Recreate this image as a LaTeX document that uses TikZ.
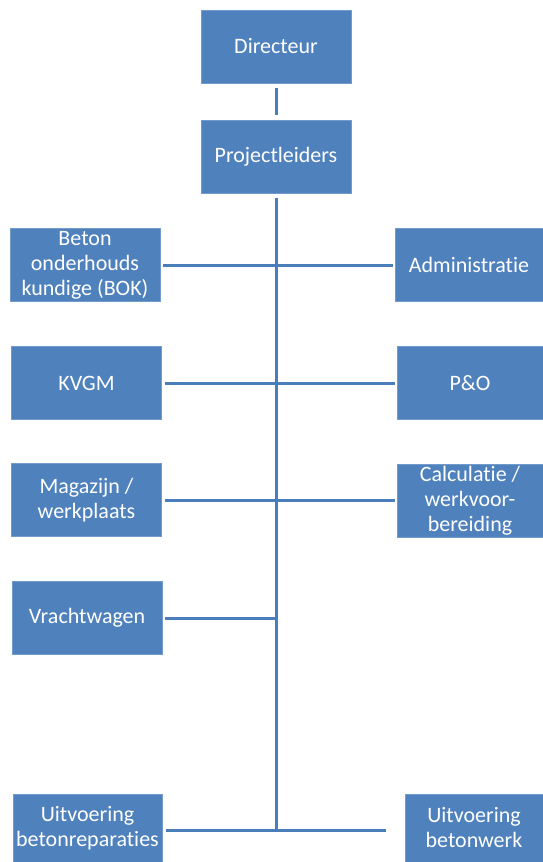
\documentclass[tikz,border=0pt]{standalone}
\usepackage{fontspec}
\setmainfont[Ligatures=NoCommon]{Carlito}
\usetikzlibrary{positioning}
\definecolor{orgblue}{HTML}{4F81BD}
\definecolor{orgline}{HTML}{4A7EBB}

\begin{document}
\begin{tikzpicture}[x=1pt,y=-1pt,
    box/.style={draw=orgblue!80!white, fill=orgblue, text=white, align=center,
      minimum width=150pt, minimum height=73pt, inner sep=2pt,
      font=\fontsize{22}{25}\selectfont},
    link/.style={draw=orgline, line width=3pt}]
    \useasboundingbox (0,0) rectangle (543,862);
    \node[box] (dir) at (276,46.5) {Directeur};
    \node[box] (pl) at (276,156.5) {Projectleiders};
    \node[box] (bok) at (85,265) {Beton\\onderhouds\\kundige (BOK)};
    \node[box, minimum width=148pt] (adm) at (469,265) {Administratie};
    \node[box] (kvgm) at (86.5,383) {KVGM};
    \node[box, minimum width=146pt] (po) at (470,383) {P\&O};
    \node[box] (mag) at (86.5,500) {Magazijn /\\werkplaats};
    \node[box, minimum width=146pt] (calc) at (470,501) {Calculatie /\\werkvoor-\\bereiding};
    \node[box] (vracht) at (87,618) {Vrachtwagen};
    \node[box, minimum width=149pt, minimum height=68pt] (uitrep) at (87.5,828) {Uitvoering\\betonreparaties};
    \node[box, minimum width=138pt, minimum height=68pt] (uitbw) at (474,828) {Uitvoering\\betonwerk};
    \coordinate (foot) at (276,830);
    \coordinate (vj) at (276,618);
    \coordinate (bwend) at (386,830);
    % connectors
    \draw[link, shorten >=5pt, shorten <=5pt] (dir) -- (pl);
    \draw[link, shorten <=5pt] (pl) -- (foot);
    \draw[link, shorten >=2pt, shorten <=3pt] (bok) -- (adm);
    \draw[link, shorten >=2pt, shorten <=3pt] (kvgm) -- (po);
    \draw[link, shorten >=2pt, shorten <=3pt] (mag.east |- 0,500) -- (calc.west |- 0,500);
    \draw[link, shorten <=3pt] (vracht) -- (vj);
    \draw[link, shorten <=4pt] (uitrep.east |- foot) -- (bwend);
\end{tikzpicture}
\end{document}
